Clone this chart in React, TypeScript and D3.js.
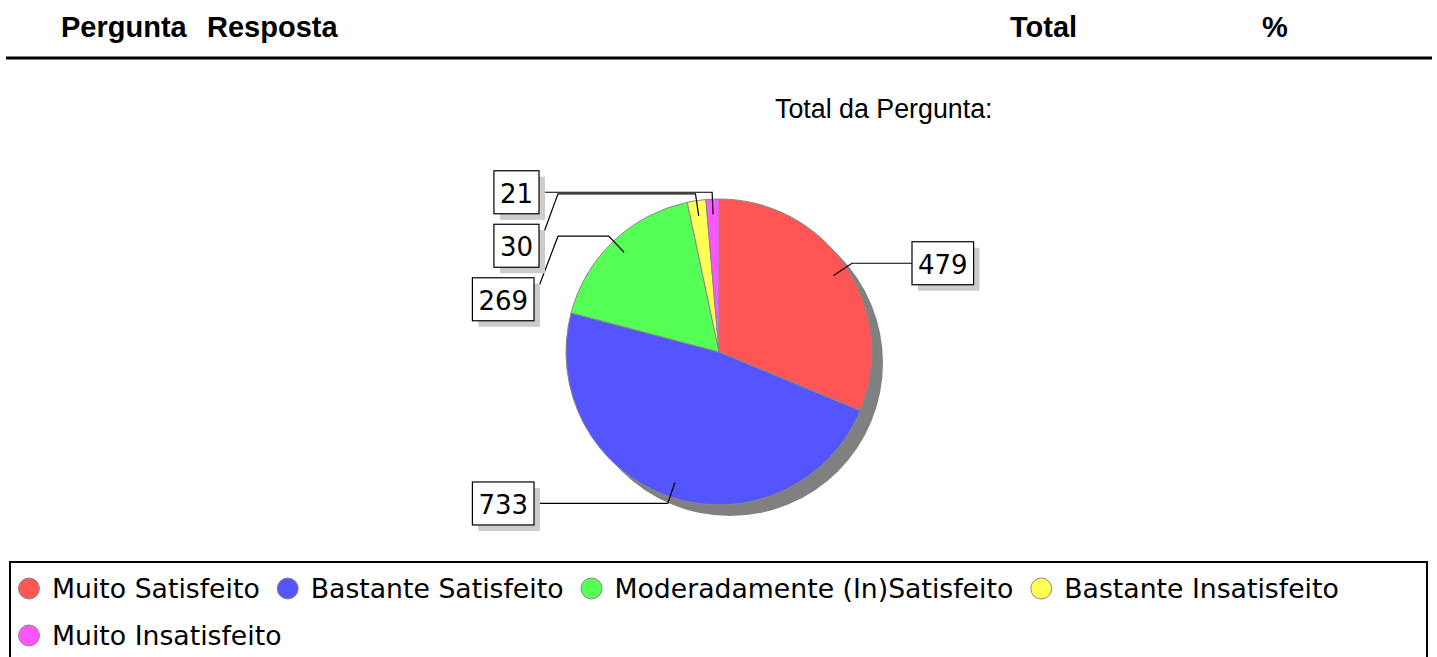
import React, { useEffect, useRef } from "react";
import * as d3 from "d3";

const categories = [
  "Muito Satisfeito",
  "Bastante Satisfeito",
  "Moderadamente (In)Satisfeito",
  "Bastante Insatisfeito",
  "Muito Insatisfeito",
];
const values = [479, 733, 269, 30, 21];
const colors = ["#FF5555", "#5555FF", "#55FF55", "#FFFF55", "#FF55FF"];
const headers = ["Pergunta", "Resposta", "Total", "%"];
const subtitle = "Total da Pergunta:";

const W = 1437;
const H = 657;

export default function App() {
  const ref = useRef<SVGSVGElement | null>(null);

  useEffect(() => {
    const svg = d3.select(ref.current);
    svg.selectAll("*").remove();

    // Header
    const headerX = [61, 207, 1010, 1262];
    svg
      .selectAll("text.hdr")
      .data(headers)
      .join("text")
      .attr("class", "hdr")
      .attr("x", (_, i) => headerX[i])
      .attr("y", 37)
      .attr("font-family", "'Liberation Sans', Arial, sans-serif")
      .attr("font-weight", "bold")
      .attr("font-size", 29)
      .attr("fill", "#000")
      .text((d) => d);
    svg
      .append("line")
      .attr("x1", 6)
      .attr("x2", 1432)
      .attr("y1", 58)
      .attr("y2", 58)
      .attr("stroke", "#000")
      .attr("stroke-width", 3);

    svg
      .append("text")
      .attr("x", 775)
      .attr("y", 118)
      .attr("font-family", "'Liberation Sans', Arial, sans-serif")
      .attr("font-size", 26.8)
      .attr("fill", "#000")
      .text(subtitle);

    // Pie
    const cx = 719;
    const cy = 352;
    const r = 153;
    const g = svg.append("g").attr("transform", `translate(${cx},${cy})`);

    g.append("circle")
      .attr("cx", 11)
      .attr("cy", 11)
      .attr("r", r)
      .attr("fill", "#808080");

    const pie = d3
      .pie<number>()
      .sort(null)
      .value((d) => d);
    const arcs = pie(values);
    const arc = d3.arc<d3.PieArcDatum<number>>().innerRadius(0).outerRadius(r);

    g.selectAll("path.slice")
      .data(arcs)
      .join("path")
      .attr("class", "slice")
      .attr("d", arc)
      .attr("fill", (_, i) => colors[i])
      .attr("stroke", "#888")
      .attr("stroke-width", 1);

    // Labels
    const font = "'DejaVu Sans', Verdana, sans-serif";
    const fs = 26;
    const boxH = 43;
    const pad = 6;
    const digitW = fs * 0.636;

    type Lab = {
      i: number;
      ax: number;
      ay: number;
      ex: number;
      ey: number;
      right: boolean;
      by: number;
      text: string;
    };
    const labs: Lab[] = arcs.map((a, i) => {
      const m = (a.startAngle + a.endAngle) / 2;
      const s = Math.sin(m);
      const c = Math.cos(m);
      return {
        i,
        ax: cx + s * r * 0.9,
        ay: cy - c * r * 0.9,
        ex: cx + s * r * 1.045,
        ey: cy - c * r * 1.045,
        right: s >= 0,
        by: cy - c * r * 1.045,
        text: String(values[i]),
      };
    });
    const left = labs.filter((l) => !l.right).sort((a, b) => a.ey - b.ey);
    let prev = -Infinity;
    left.forEach((l) => {
      l.by = Math.max(l.ey, prev + 53.5);
      prev = l.by;
    });
    const right = labs.filter((l) => l.right).sort((a, b) => a.ey - b.ey);
    prev = -Infinity;
    right.forEach((l) => {
      l.by = Math.max(l.ey, prev + 53.5);
      prev = l.by;
    });

    const lg = svg.append("g");
    labs.forEach((l) => {
      const bw = l.text.length * digitW + pad * 2;
      let bx: number;
      let pts: [number, number][];
      if (l.right) {
        bx = cx + r + 40;
        pts = [
          [l.ax, l.ay],
          [l.ex, l.ey],
          [bx, l.ey],
        ];
        if (Math.abs(l.by - l.ey) > 0.5) pts[2] = [bx, l.by];
      } else {
        const boxRight = l.text.length > 2 ? cx - r - 32 : cx - r - 27;
        bx = boxRight - bw;
        pts = [
          [l.ax, l.ay],
          [l.ex, l.ey],
          [cx - r - 8, l.ey],
          [boxRight, l.by],
        ];
      }
      lg.append("path")
        .attr("d", d3.line()(pts) as string)
        .attr("fill", "none")
        .attr("stroke", "#000")
        .attr("stroke-width", 1.2);
      const by0 = l.by - boxH / 2;
      lg.append("rect")
        .attr("x", bx + 6)
        .attr("y", by0 + 6)
        .attr("width", bw)
        .attr("height", boxH)
        .attr("fill", "#cccccc");
      lg.append("rect")
        .attr("x", bx)
        .attr("y", by0)
        .attr("width", bw)
        .attr("height", boxH)
        .attr("fill", "#fff")
        .attr("stroke", "#000")
        .attr("stroke-width", 1.2);
      lg.append("text")
        .attr("x", bx + bw / 2)
        .attr("y", l.by + 10.5)
        .attr("text-anchor", "middle")
        .attr("font-family", font)
        .attr("font-size", fs)
        .attr("fill", "#000")
        .text(l.text);
    });

    // Legend
    const legX = 10;
    const legY = 562;
    const legW = 1417;
    svg
      .append("rect")
      .attr("x", legX)
      .attr("y", legY)
      .attr("width", legW)
      .attr("height", 120)
      .attr("fill", "#fff")
      .attr("stroke", "#000")
      .attr("stroke-width", 2);

    const leg = svg.append("g");
    let x = 29;
    let y = 588.5;
    categories.forEach((cat, i) => {
      const t = leg
        .append("text")
        .attr("font-family", font)
        .attr("font-size", 26.7)
        .attr("fill", "#000")
        .text(cat);
      const tw = (t.node() as SVGTextElement).getComputedTextLength();
      if (x + 23 + tw > legX + legW - 10) {
        x = 29;
        y += 47;
      }
      leg
        .append("circle")
        .attr("cx", x)
        .attr("cy", y)
        .attr("r", 10.5)
        .attr("fill", colors[i])
        .attr("stroke", "#888")
        .attr("stroke-width", 1);
      t.attr("x", x + 23).attr("y", y + 9.5);
      x = x + 23 + tw + 28;
    });
  }, []);

  return (
    <svg
      ref={ref}
      width={W}
      height={H}
      style={{ position: "absolute", left: 0, top: 0, background: "#fff" }}
    />
  );
}
